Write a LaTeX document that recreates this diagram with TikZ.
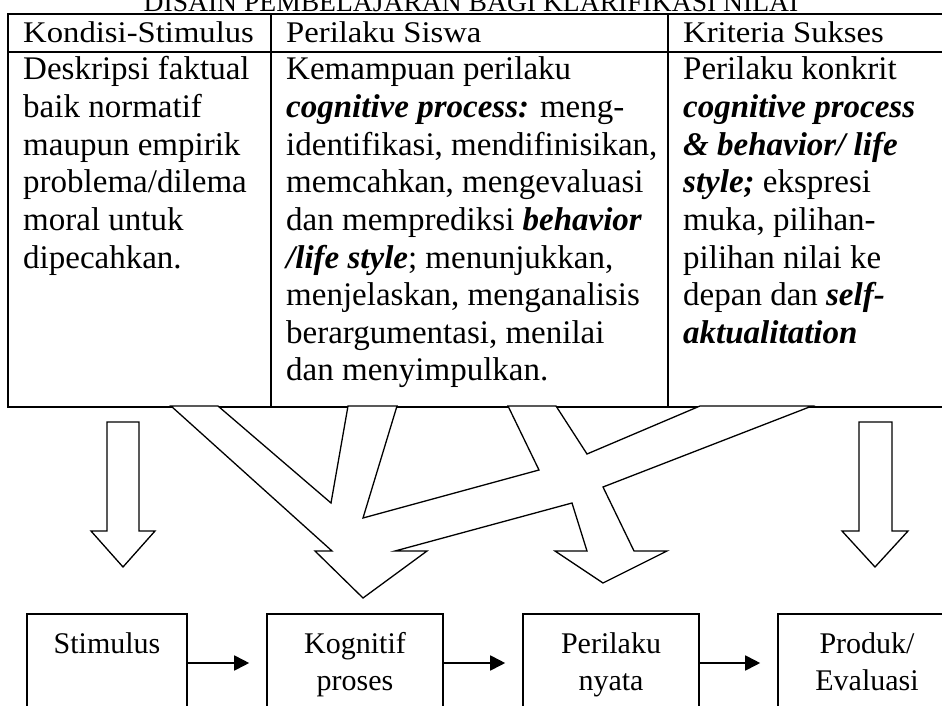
\documentclass[tikz,border=0pt]{standalone}
\usepackage{fontspec}
\setmainfont{Liberation Serif}
\usetikzlibrary{arrows.meta}
\newcommand{\bix}[1]{{\bfseries\itshape #1}}
\begin{document}
\begin{tikzpicture}[x=1pt,y=-1pt,
  body/.style={anchor=base west, inner sep=0pt, font=\fontsize{33}{38}\selectfont},
  hdr/.style={anchor=base west, inner sep=0pt, font=\fontsize{30}{34}\selectfont},
  lbl/.style={anchor=base, inner sep=0pt, font=\fontsize{30}{34}\selectfont},
  tbl/.style={line width=2pt, line join=miter},
  blk/.style={draw, line width=1.3pt, fill=white, line join=miter, miter limit=20},
  procbox/.style={draw, line width=1.6pt, minimum height=98pt, inner sep=0pt},
  flow/.style={line width=1.8pt, -{Triangle[length=15pt,width=15pt]}, shorten >=17pt}]
\useasboundingbox (0,0) rectangle (942,706);
\fill[white] (0,0) rectangle (942,706);

% title (cut at the top, as in the reference)
\node[anchor=base, inner sep=0pt, font=\fontsize{27.6}{30}\selectfont] (title) at (471,12) {DISAIN PEMBELAJARAN BAGI KLARIFIKASI NILAI};

% table
\draw[tbl] (950,14) -- (8,14) -- (8,407) -- (950,407);
\draw[tbl] (8,52) -- (950,52);
\draw[tbl] (271,14) -- (271,407);
\draw[tbl] (668,14) -- (668,407);

\node[hdr] (h1) at (23,43) {\scalebox{1.09}[1]{Kondisi-Stimulus}};
\node[hdr] (h2) at (286,43) {\scalebox{1.09}[1]{Perilaku Siswa}};
\node[hdr] (h3) at (683,43) {\scalebox{1.09}[1]{Kriteria Sukses}};

\foreach \t [count=\i from 0] in {Deskripsi faktual, baik normatif, maupun empirik, problema/dilema, moral untuk, dipecahkan.}
  \node[body] (ca-\i) at (23,{80+37.6*\i}) {\t};

\foreach \t [count=\i from 0] in {Kemampuan perilaku, {\bix{cognitive process:} meng-}, {identifikasi, mendifinisikan,}, {memcahkan, mengevaluasi}, {dan memprediksi \bix{behavior}}, {\bix{/life style}; menunjukkan,}, {menjelaskan, menganalisis}, {berargumentasi, menilai}, dan menyimpulkan.}
  \node[body] (cb-\i) at (286,{80+37.6*\i}) {\t};

\foreach \t [count=\i from 0] in {Perilaku konkrit, {\bix{cognitive process}}, {\bix{\& behavior/ life}}, {\bix{style;} ekspresi}, {muka, pilihan-}, {pilihan nilai ke}, {depan dan \bix{self-}}, {\bix{aktualitation}}}
  \node[body] (cc-\i) at (683,{80+37.6*\i}) {\t};

% simple block arrows
\draw[blk] (107,422) -- (139,422) -- (139,531) -- (155,531) -- (123,567) -- (91,531) -- (107,531) -- cycle;
\draw[blk] (859,422) -- (892,422) -- (892,531) -- (908,531) -- (875,567) -- (842,531) -- (859,531) -- cycle;

% merging block arrows
\draw[blk] (171,406) -- (332,551) -- (315,551) -- (363,598) -- (427,551) -- (395,551)
  -- (572,503) -- (587,551) -- (555,551) -- (603,583) -- (667,551) -- (634,551)
  -- (603,487) -- (812,406) -- (700,406) -- (587,454) -- (556,406) -- (508,406)
  -- (539,470) -- (363,518) -- (397,406) -- (348,406) -- (331,503) -- (218,406) -- cycle;

% process boxes
\node[procbox, minimum width=160pt] (b1) at (107,663) {};
\node[procbox, minimum width=176pt] (b2) at (355,663) {};
\node[procbox, minimum width=176pt] (b3) at (611,663) {};
\node[procbox, minimum width=178pt] (b4) at (867,663) {};

\node[lbl] (t1) at (107,653) {Stimulus};
\node[lbl] (t2a) at (355,653) {Kognitif};
\node[lbl] (t2b) at (355,690) {proses};
\node[lbl] (t3a) at (611,653) {Perilaku};
\node[lbl] (t3b) at (611,690) {nyata};
\node[lbl] (t4a) at (867,653) {Produk/};
\node[lbl] (t4b) at (867,690) {Evaluasi};

\draw[flow] (b1.east) -- (b2.west);
\draw[flow] (b2.east) -- (b3.west);
\draw[flow] (b3.east) -- (b4.west);
\end{tikzpicture}
\end{document}
